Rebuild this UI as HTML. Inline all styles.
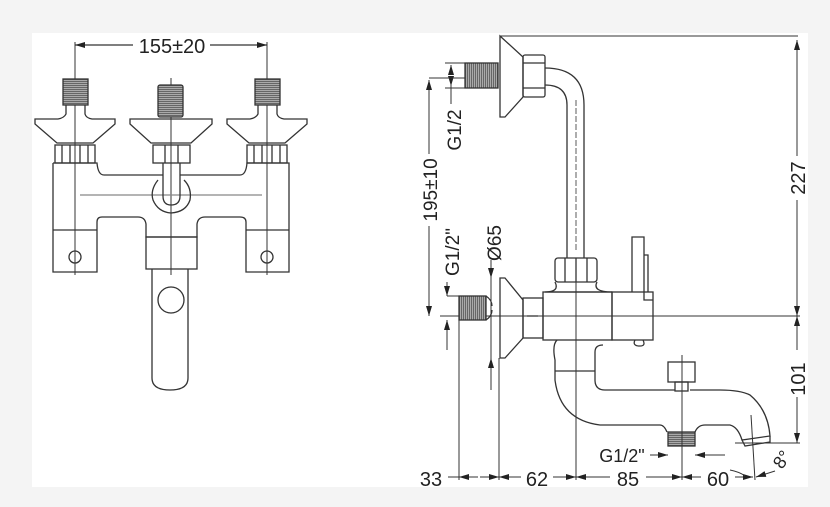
<!DOCTYPE html>
<html><head><style>
html,body{margin:0;padding:0;background:#f4f4f4}
svg{display:block}
text{font-family:"Liberation Sans",sans-serif;fill:#222}
</style></head><body>
<svg width="830" height="507" viewBox="0 0 830 507" xmlns="http://www.w3.org/2000/svg">
<defs>
<pattern id="h" width="4" height="2" patternUnits="userSpaceOnUse"><rect width="4" height="2" fill="#666"/><rect width="4" height="0.8" fill="#bbb"/></pattern>
<pattern id="v" width="2" height="4" patternUnits="userSpaceOnUse"><rect width="2" height="4" fill="#666"/><rect width="0.8" height="4" fill="#bbb"/></pattern>
<marker id="a" viewBox="0 0 10 6" refX="10" refY="3" markerWidth="10" markerHeight="6" orient="auto-start-reverse" markerUnits="userSpaceOnUse"><path d="M0,0L10,3L0,6z" fill="#222"/></marker>
</defs>
<rect x="32" y="33" width="776" height="454" fill="#fff"/>
<g fill="none" stroke="#333" stroke-width="1.3">
<!-- LEFT VIEW -->
<line x1="75" y1="45" x2="133" y2="45" marker-start="url(#a)"/>
<line x1="210" y1="45" x2="267" y2="45" marker-end="url(#a)"/>
<line x1="75" y1="42" x2="75" y2="275" stroke-width="1"/>
<line x1="267" y1="42" x2="267" y2="275" stroke-width="1"/>
<line x1="171" y1="78" x2="171" y2="275" stroke-width="1"/>
<rect x="63" y="79" width="25" height="26" fill="url(#h)"/>
<rect x="158" y="85" width="25" height="32" fill="url(#h)" rx="2"/>
<rect x="255" y="79" width="25" height="26" fill="url(#h)"/>
<path d="M66,105 L66,114 Q64,118 58,119 L35,119 L35,124 L57,143 L93,143 L115,124 L115,119 L92,119 Q86,118 85,114 L85,105"/>
<path d="M130,119 L212,119 L212,124 L191,143 L151,143 L130,124 Z"/>
<path d="M258,105 L258,114 Q256,118 250,119 L227,119 L227,124 L249,143 L285,143 L307,124 L307,119 L284,119 Q278,118 277,114 L277,105"/>
<rect x="55" y="145" width="40" height="18"/>
<path d="M62,145V163M70,145V163M80,145V163M88,145V163"/>
<rect x="153" y="145" width="37" height="18"/>
<path d="M165,145V163M178,145V163"/>
<rect x="247" y="145" width="40" height="18"/>
<path d="M254,145V163M262,145V163M272,145V163M280,145V163"/>
<path d="M53,163 L53,272 L97,272 L97,222 Q97,217 102,217 L138,217 Q145,217 146,224 L146,237 L197,237 L197,224 Q198,217 205,217 L240,217 Q246,217 246,222 L246,272 L289,272 L289,163 L247,163 Q246,175 240,175 L180,175 M163,175 L104,175 Q98,175 97,163 L53,163"/>
<line x1="53" y1="230" x2="97" y2="230"/>
<line x1="246" y1="230" x2="289" y2="230"/>
<line x1="80" y1="195" x2="262" y2="195" stroke="#888"/>
<circle cx="75" cy="257" r="6"/><circle cx="267" cy="257" r="6"/>
<rect x="146" y="237" width="51" height="32"/>
<path d="M152,269 L152,378 Q152,390 170,390 Q188,390 188,378 L188,269"/>
<circle cx="171" cy="300" r="13"/>
<path d="M158,180 Q150,190 153,200 Q158,212 171,213 Q186,212 190,200 Q192,188 184,180"/>
<path d="M163,163 L163,196 Q163,205 171,205 Q180,205 180,196 L180,163"/>
<!-- RIGHT VIEW -->
<line x1="500" y1="36" x2="798" y2="36" stroke-width="1"/>
<line x1="797" y1="40" x2="797" y2="156" marker-start="url(#a)" stroke-width="1"/>
<line x1="797" y1="200" x2="797" y2="316" marker-end="url(#a)" stroke-width="1"/>
<line x1="797" y1="316" x2="797" y2="350" marker-start="url(#a)" stroke-width="1"/>
<line x1="797" y1="397" x2="797" y2="443" marker-end="url(#a)" stroke-width="1"/>
<line x1="735" y1="443" x2="800" y2="443" stroke-width="1"/>
<line x1="440" y1="316" x2="800" y2="316" stroke-width="1"/>
<path d="M500,36 L523,57 L523,97 L505,117 L500,117 Z"/>
<rect x="465" y="63" width="33" height="25" fill="url(#v)"/>
<rect x="523" y="55" width="22" height="42" rx="2"/>
<path d="M523,63H545M523,88H545"/>
<path d="M545,68 Q584,68 584,105 L584,258 M545,85 Q567,85 567,105 L567,258"/>
<line x1="576" y1="100" x2="576" y2="250" stroke-dasharray="6,2" stroke-width="0.8"/>
<line x1="451" y1="65" x2="451" y2="74" marker-start="url(#a)" stroke-width="1"/>
<line x1="451" y1="77" x2="451" y2="86" marker-end="url(#a)" stroke-width="1"/>
<line x1="451" y1="86" x2="451" y2="104" stroke-width="1"/>
<line x1="445" y1="63" x2="465" y2="63" stroke-width="1"/>
<line x1="445" y1="88" x2="465" y2="88" stroke-width="1"/>
<line x1="429" y1="78" x2="465" y2="78" stroke-width="1"/>
<line x1="429" y1="80" x2="429" y2="154" marker-start="url(#a)" stroke-width="1"/>
<line x1="429" y1="226" x2="429" y2="316" marker-end="url(#a)" stroke-width="1"/>
<rect x="555" y="258" width="42" height="24" rx="3"/>
<path d="M565,258V282M576,258V282M587,258V282"/>
<path d="M555,282 Q560,292 545,292 L612,292 M597,282 Q592,292 612,292"/>
<rect x="543" y="292" width="69" height="48"/>
<rect x="612" y="292" width="41" height="48"/>
<path d="M632,292 L632,237 L644,237 L644,300 L653,300 M644,255 L648,255 L648,292"/>
<path d="M635,340 Q632,346 640,346 Q646,346 643,340"/>
<path d="M500,278 L500,358 L505,358 L523,338 L523,300 L505,278 Z" />
<rect x="523" y="298" width="20" height="40"/>
<path d="M527,316H538"/>
<rect x="459" y="296" width="27" height="24" fill="url(#v)"/>
<path d="M486,296 Q492,300 492,306 M486,320 Q492,316 492,310"/>
<path d="M557,340 Q552,345 555,360 L555,380 Q560,420 600,425 L660,425 Q664,425 667,432 M695,432 Q698,425 705,425 L730,425 Q738,427 742,440 L770,436 Q768,410 750,395 Q740,390 720,390 L690,390 M675,390 L605,390 Q595,390 595,380 L595,352 Q595,345 603,345"/>
<line x1="555" y1="371" x2="595" y2="371"/>
<rect x="668" y="362" width="27" height="20"/>
<rect x="675" y="382" width="13" height="9"/>
<rect x="668" y="432" width="27" height="14" fill="url(#h)"/>
<path d="M742,440 L745,446 L770,442 L770,436"/>
<line x1="459" y1="320" x2="459" y2="480" stroke-width="1"/>
<line x1="499" y1="358" x2="499" y2="480" stroke-width="1"/>
<line x1="576" y1="282" x2="576" y2="480" stroke-width="1"/>
<line x1="682" y1="355" x2="682" y2="480" stroke-width="1"/>
<line x1="751" y1="415" x2="755" y2="480" stroke-width="1"/>
<line x1="448" y1="477" x2="459" y2="477" stroke-width="1"/>
<line x1="459" y1="477" x2="478" y2="477" marker-start="url(#a)" stroke-width="1"/>
<line x1="480" y1="477" x2="499" y2="477" marker-end="url(#a)" stroke-width="1"/>
<line x1="499" y1="477" x2="521" y2="477" marker-start="url(#a)" stroke-width="1"/>
<line x1="553" y1="477" x2="576" y2="477" marker-end="url(#a)" stroke-width="1"/>
<line x1="576" y1="477" x2="610" y2="477" marker-start="url(#a)" stroke-width="1"/>
<line x1="646" y1="477" x2="682" y2="477" marker-end="url(#a)" stroke-width="1"/>
<line x1="682" y1="477" x2="701" y2="477" marker-start="url(#a)" stroke-width="1"/>
<line x1="735" y1="477" x2="753" y2="477" marker-end="url(#a)" stroke-width="1"/>
<line x1="775" y1="471" x2="756" y2="477" marker-end="url(#a)" stroke-width="1"/>
<path d="M730,470 Q740,472 745,476" stroke-width="1"/>
<line x1="650" y1="455" x2="668" y2="455" marker-end="url(#a)" stroke-width="1"/>
<line x1="725" y1="455" x2="695" y2="455" marker-end="url(#a)" stroke-width="1"/>
<line x1="447" y1="282" x2="447" y2="296" marker-end="url(#a)" stroke-width="1"/>
<line x1="447" y1="350" x2="447" y2="320" marker-end="url(#a)" stroke-width="1"/>
<line x1="447" y1="296" x2="459" y2="296" stroke-width="1"/>
<line x1="491" y1="260" x2="491" y2="278" marker-end="url(#a)" stroke-width="1"/>
<line x1="491" y1="390" x2="491" y2="358" marker-end="url(#a)" stroke-width="1"/>
<line x1="491" y1="278" x2="491" y2="358" stroke-width="1"/>
</g>
<text x="172" y="53" font-size="20" text-anchor="middle">155±20</text>
<text x="431" y="486" font-size="20" text-anchor="middle">33</text>
<text x="537" y="486" font-size="20" text-anchor="middle">62</text>
<text x="628" y="486" font-size="20" text-anchor="middle">85</text>
<text x="718" y="486" font-size="20" text-anchor="middle">60</text>
<text x="622" y="462" font-size="18" text-anchor="middle">G1/2"</text>
<text transform="translate(787,463) rotate(-55)" font-size="18" text-anchor="middle">8°</text>
<text transform="translate(805,178) rotate(-90)" font-size="20" text-anchor="middle">227</text>
<text transform="translate(805,379) rotate(-90)" font-size="20" text-anchor="middle">101</text>
<text transform="translate(461,130) rotate(-90)" font-size="19" text-anchor="middle">G1/2</text>
<text transform="translate(437,190) rotate(-90)" font-size="19" text-anchor="middle">195±10</text>
<text transform="translate(459,252) rotate(-90)" font-size="19" text-anchor="middle">G1/2"</text>
<text transform="translate(501,243) rotate(-90)" font-size="19" text-anchor="middle">Ø65</text>
</svg>
</body></html>
